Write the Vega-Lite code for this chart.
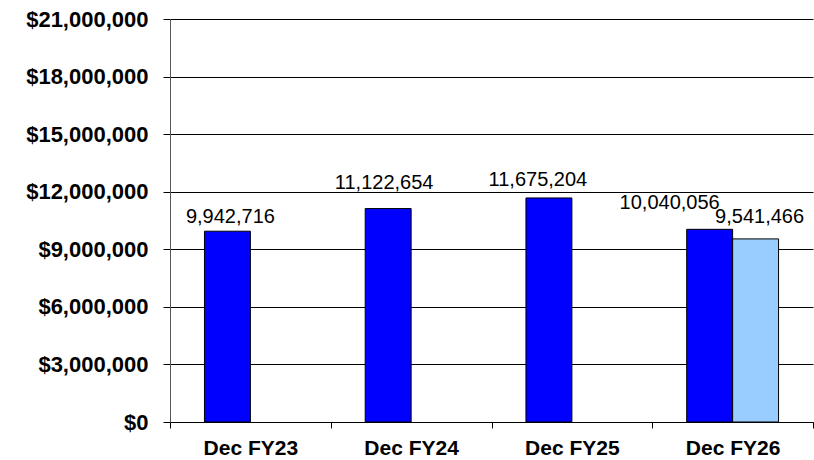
{
  "$schema": "https://vega.github.io/schema/vega-lite/v6.json",
  "width": 643,
  "height": 403,
  "autosize": {"type": "none"},
  "padding": {"left": 170, "top": 19, "right": 1, "bottom": 38},
  "background": "white",
  "config": {
    "view": {"stroke": null},
    "font": "Liberation Sans",
    "text": {"baseline": "alphabetic", "fontSize": 20, "font": "Liberation Sans", "color": "black"}
  },
  "data": {
    "values": [
      {"period": "Dec FY23", "series": "A", "value": 9942716},
      {"period": "Dec FY24", "series": "A", "value": 11122654},
      {"period": "Dec FY25", "series": "A", "value": 11675204},
      {"period": "Dec FY26", "series": "A", "value": 10040056},
      {"period": "Dec FY26", "series": "B", "value": 9541466}
    ]
  },
  "encoding": {
    "x": {
      "field": "period",
      "type": "nominal",
      "sort": null,
      "scale": {"paddingInner": 0, "paddingOuter": 0},
      "axis": {
        "title": null,
        "labelAngle": 0,
        "labelFont": "Liberation Sans",
        "labelFontSize": 21,
        "labelFontWeight": "bold",
        "labelColor": "black",
        "labelPadding": 9,
        "tickBand": "extent",
        "tickSize": 6,
        "tickColor": "black",
        "domainColor": "black",
        "grid": false
      }
    },
    "xOffset": {
      "field": "series",
      "type": "nominal",
      "scale": {"domain": ["A", "B"], "paddingInner": 0, "paddingOuter": 0.75}
    },
    "y": {
      "field": "value",
      "type": "quantitative",
      "scale": {"domain": [0, 21000000], "nice": false},
      "axis": {
        "title": null,
        "values": [0, 3000000, 6000000, 9000000, 12000000, 15000000, 18000000, 21000000],
        "format": "$,.0f",
        "labelFont": "Liberation Sans",
        "labelFontSize": 22,
        "labelFontWeight": "bold",
        "labelColor": "black",
        "labelPadding": 15,
        "tickSize": 7,
        "tickColor": "black",
        "domainColor": "#555555",
        "grid": true,
        "gridColor": "black",
        "gridWidth": 1,
        "gridOpacity": 1
      }
    },
    "text": {"field": "value", "type": "quantitative", "format": ",.0f"}
  },
  "layer": [
    {
      "mark": {"type": "bar", "stroke": "black", "strokeWidth": 1},
      "encoding": {
        "text": null,
        "color": {
          "field": "series",
          "type": "nominal",
          "scale": {"domain": ["A", "B"], "range": ["#0000FF", "#99CCFF"]},
          "legend": null
        }
      }
    },
    {
      "transform": [{"filter": "datum.period === 'Dec FY23'"}],
      "mark": {"type": "text", "dx": 3, "dy": -8}
    },
    {
      "transform": [{"filter": "datum.period === 'Dec FY24'"}],
      "mark": {"type": "text", "dx": -4, "dy": -20}
    },
    {
      "transform": [{"filter": "datum.period === 'Dec FY25'"}],
      "mark": {"type": "text", "dx": -11, "dy": -12}
    },
    {
      "transform": [{"filter": "datum.period === 'Dec FY26' && datum.series === 'A'"}],
      "mark": {"type": "text", "dx": -40, "dy": -20}
    },
    {
      "transform": [{"filter": "datum.period === 'Dec FY26' && datum.series === 'B'"}],
      "mark": {"type": "text", "dx": 4, "dy": -16}
    }
  ]
}
